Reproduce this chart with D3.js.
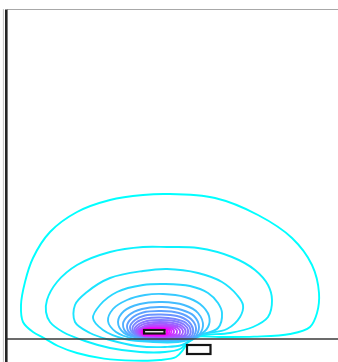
<!DOCTYPE html>
<html>
<head>
<meta charset="utf-8">
<script src="https://cdn.jsdelivr.net/npm/d3@7"></script>
<style>
  html, body { margin: 0; padding: 0; background: #fff; }
  svg { display: block; }
</style>
</head>
<body>
<svg id="chart" width="338" height="362"></svg>
<script>
// Field contours around a conductor above the ground surface (units: cm,
// x measured from the conductor centre, y height above ground).

// Contour loops, outermost (lowest level) first, as [x, y] points
const contour01 = [[19.5,0.8],[33,1],[50,1.2],[68,2.5],[78,6],[81.5,13],[82.5,23],[79,37],[69,50.5],[52,62],[30.5,70.5],[6.5,72.5],[-5.5,72],[-22,69.5],[-38.5,63.5],[-52,53.5],[-60.5,40.5],[-64.5,28.5],[-66.5,17],[-65.5,8.5],[-60.5,3.5],[-55,0.5],[-48,-3.5],[-38.5,-7],[-25,-9.8],[-10,-10.8],[3,-10.5],[11,-9],[14.5,-5.5],[16.5,-2]];
const contour02 = [[23,1.5],[38,3],[49.5,6],[57,11],[59,19.5],[57,27],[50.5,34.5],[39,41],[22,45.5],[6.5,46],[-5.5,46],[-22,43.5],[-38.5,37],[-48.5,28.5],[-53.5,19.5],[-54,13.5],[-52,8.5],[-45.5,3.5],[-34.5,-1],[-22,-4.5],[-7,-6.5],[5.5,-6.5],[13,-5],[16.5,-2]];
const contour03 = [[23,2],[36.5,5],[43,11],[44.5,17],[41.5,22],[34,28.5],[22,33],[6.5,35],[-5.5,34],[-22,30.5],[-33.5,23.5],[-39.5,17],[-39.5,8.5],[-32,3],[-22,-0.5],[-8.5,-3.5],[5.5,-4],[14,-3]];
const contour04 = [[23,2],[32,5.5],[34,13],[32,18],[27,23],[18,26.5],[5.5,27.5],[-5.5,27],[-18.5,23.5],[-27,17],[-30.5,10.5],[-25.5,4.5],[-14.5,0],[-0.5,-1.5],[12,-1.5],[17,-0.5]];
const contour05 = [[22,1.5],[27,6],[27.5,11.5],[23,17.5],[15.5,21],[4.5,22.5],[-4.5,22],[-13.5,19.5],[-20.5,15],[-23,9],[-19,3.5],[-9.5,0],[3,-1],[15.5,-0.5]];
const contour06 = [[21.5,1],[24.5,6.5],[22,13],[15,17],[4,18.5],[-7,17.5],[-15,14],[-18,8.5],[-15,3],[-4.5,0],[9,-0.5],[17.5,0]];
const contour07 = [[20.5,1],[22.5,6],[20,11.5],[14,14.5],[4,16],[-6,15],[-12.5,12],[-15.5,7.5],[-13,2.5],[-3,0],[9,-0.25],[17,0.25]];
const contour08 = [[19.5,1],[21,5.5],[18.5,10],[12.5,13],[3.5,14],[-5.5,13.25],[-11,10.5],[-13.5,6.5],[-11.5,2.5],[-2,0.25],[10,0],[17,0.5]];
const contour09 = [[18.5,1.25],[19.5,5],[17,9],[11.5,11.5],[3.5,12.25],[-4.5,11.75],[-9.5,9.5],[-12,6],[-10,2.5],[-1,0.5],[10.5,0.25]];
const contour10 = [[17.5,1.5],[18.25,4.75],[16,8],[10.5,10],[3,10.75],[-4,10.25],[-8.5,8.5],[-10.75,5.5],[-9,2.25],[-0.5,0.75],[10,0.5]];
const contour11 = [[16.25,1.75],[17,4.5],[15,7.25],[10,9],[3,9.5],[-3.5,9],[-7.5,7.5],[-9.75,5],[-8,2.25],[0,0.75],[10,0.75]];
const contour12 = [[15,1.75],[15.75,4.25],[14,6.5],[9.5,8],[3,8.5],[-3,8],[-6.75,6.75],[-9,4.5],[-7.25,2],[0.5,1],[9.5,1]];
const contour13 = [[13.75,2],[14.5,4],[13,6],[9,7.1],[3,7.6],[-2.5,7.2],[-6,6],[-8.25,4.25],[-6.75,2],[0.5,1.15],[9,1.15]];
const contour14 = [[12.5,2.25],[13,4],[11.5,5.75],[8,6.6],[3,6.9],[-2,6.6],[-5.5,5.6],[-7.6,4],[-6.25,2],[0.5,1.3],[8,1.3]];
const contour15 = [[11,2.4],[11.5,4],[10.25,5.4],[7,6.1],[2.5,6.35],[-2,6.1],[-5,5.3],[-7.1,4],[-6,2.1],[0.5,1.5],[7,1.5]];
const contour16 = [[9.5,2.5],[10,4],[9,5.2],[6.25,5.7],[2,5.9],[-2,5.7],[-4.75,5],[-6.7,3.9],[-5.75,2.2],[0.5,1.65],[6,1.65]];
const contour17 = [[8.25,2.6],[8.75,4],[7.75,5.1],[5,5.45],[1.5,5.55],[-2,5.45],[-4.5,4.85],[-6.35,3.85],[-5.5,2.3],[0.5,1.8],[5.5,1.8]];
const contour18 = [[7.25,2.7],[7.75,4],[6.75,5],[4,5.2],[0.5,5.25],[-2.5,5.15],[-4.75,4.7],[-6.1,3.8],[-5.25,2.4],[0.5,1.95],[5,1.95]];
const contour19 = [[6.4,2.6],[6.9,4],[6,4.95],[3.5,5.1],[0.5,5.12],[-2.5,5.08],[-4.9,4.75],[-5.9,3.8],[-5.3,2.45],[0.5,2.1],[4.5,2.1]];
const contour20 = [[6.1,2.5],[6.4,3.8],[5.6,4.95],[0.5,5.05],[-5,4.9],[-5.75,3.7],[-5.2,2.4],[0.5,2.2],[4.5,2.2]];

const contourPaths = [contour01, contour02, contour03, contour04, contour05, contour06,
  contour07, contour08, contour09, contour10, contour11, contour12, contour13,
  contour14, contour15, contour16, contour17, contour18, contour19, contour20];

// Conductor cross-sections: [x0, x1, y0, y1]
const conductorA = [-5, 5.25, 2.75, 4.5];
const conductorB = [16.5, 28.25, -7.5, -3];

// Region shown
const xExtent = [-73.5, 92];
const yExtent = [-11.5, 165];

const W = 338, H = 362;
const svg = d3.select("#chart");
svg.append("rect").attr("width", W).attr("height", H).attr("fill", "#fff");

const x = d3.scaleLinear().domain(xExtent).range([7, 338]);
const y = d3.scaleLinear().domain(yExtent).range([362, 9]);

// "cool" colour ramp: cyan (lowest level) to magenta (highest)
const cool = d3.interpolateRgb("#00ffff", "#ff00ff");
const color = d3.scaleLinear().domain([0, contourPaths.length - 1]).range([0, 1]);

svg.append("clipPath").attr("id", "plot-clip")
  .append("rect").attr("x", x(xExtent[0])).attr("y", y(yExtent[1]))
  .attr("width", x(xExtent[1]) - x(xExtent[0]))
  .attr("height", y(yExtent[0]) - y(yExtent[1]));

const line = d3.line()
  .x(d => x(d[0]))
  .y(d => y(d[1]))
  .curve(d3.curveCatmullRomClosed.alpha(0.5));

svg.append("g").attr("clip-path", "url(#plot-clip)")
  .selectAll("path")
  .data(contourPaths)
  .join("path")
  .attr("d", line)
  .attr("fill", "none")
  .attr("stroke", (d, i) => cool(color(i)))
  .attr("stroke-width", 1.9)
  .attr("stroke-linejoin", "round");

// Top frame edge
svg.append("line")
  .attr("x1", x(xExtent[0])).attr("x2", W)
  .attr("y1", y(yExtent[1]) + 0.5).attr("y2", y(yExtent[1]) + 0.5)
  .attr("stroke", "#a8a8a8").attr("stroke-width", 1);

// Ground surface
svg.append("line")
  .attr("x1", x(xExtent[0])).attr("x2", W)
  .attr("y1", y(0)).attr("y2", y(0))
  .attr("stroke", "#3a3a3a").attr("stroke-width", 1.6);

// Left axis (spine only)
const yAxis = d3.axisLeft(y).ticks(0).tickSizeOuter(0);
const gAxis = svg.append("g").attr("transform", `translate(${x(xExtent[0]) - 1.2},0)`).call(yAxis);
gAxis.select(".domain").attr("stroke", "#262626").attr("stroke-width", 2.6);
svg.append("line")
  .attr("x1", x(xExtent[0]) - 3.6).attr("x2", x(xExtent[0]) - 3.6)
  .attr("y1", y(yExtent[1])).attr("y2", H)
  .attr("stroke", "#c4c4c4").attr("stroke-width", 1);

// Conductors
[conductorA, conductorB].forEach(c => {
  svg.append("rect")
    .attr("x", x(c[0])).attr("y", y(c[3]))
    .attr("width", x(c[1]) - x(c[0]))
    .attr("height", y(c[2]) - y(c[3]))
    .attr("fill", "#fff")
    .attr("stroke", "#151515")
    .attr("stroke-width", 2.2);
});
</script>
</body>
</html>
